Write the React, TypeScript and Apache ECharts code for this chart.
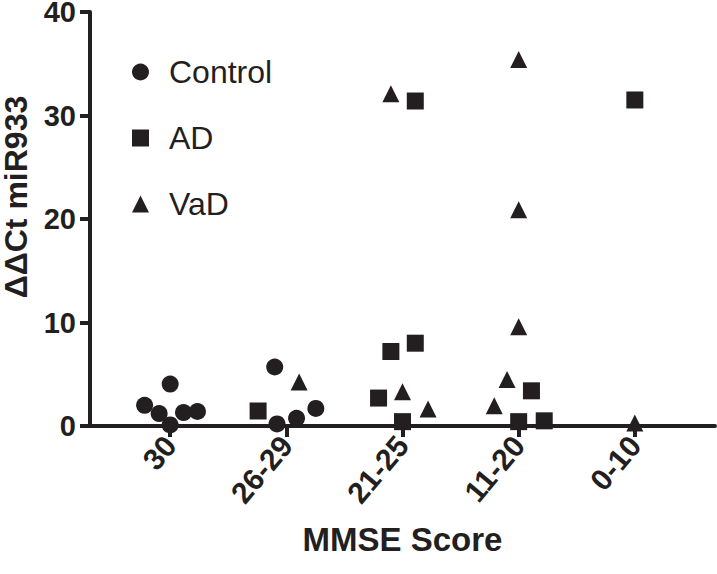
import React, { useEffect, useRef } from "react";
import * as echarts from "echarts";

// MMSE score categories (x axis tick labels, left to right)
const categories = ["30", "26-29", "21-25", "11-20", "0-10"];
const yTicks = [0, 10, 20, 30, 40];

// Each group: category index, horizontal jitter (in category units), value (ΔΔCt)
const controlCategory = [0, 0, 0, 0, 0, 0, 1, 1, 1, 1];
const controlJitter = [-0.22, -0.095, 0, 0, 0.115, 0.235, -0.1, -0.08, 0.088, 0.254];
const controlValues = [2.0, 1.2, 0.1, 4.05, 1.3, 1.4, 5.7, 0.2, 0.75, 1.7];

const adCategory = [1, 2, 2, 2, 2, 2, 3, 3, 3, 4];
const adJitter = [-0.243, -0.206, -0.1, 0.11, 0, 0.11, 0.11, 0, 0.22, 0];
const adValues = [1.45, 2.7, 7.2, 8.0, 0.42, 31.4, 3.4, 0.42, 0.5, 31.5];

const vadCategory = [1, 2, 2, 2, 3, 3, 3, 3, 3, 4];
const vadJitter = [0.11, -0.1, 0, 0.22, 0, 0, 0, -0.1, -0.21, 0];
const vadValues = [4.25, 32.1, 3.3, 1.65, 35.4, 20.9, 9.6, 4.5, 1.95, 0.3];

const seriesNames = ["Control", "AD", "VaD"];
const seriesSymbols = ["circle", "rect", "triangle"];

const INK = "#231f20";
const FONT = "'Liberation Sans', Arial, Helvetica, sans-serif";

function build(cat: number[], jit: number[], vals: number[]) {
  return vals.map((v, i) => [cat[i] + jit[i], v]);
}

export default function App() {
  const ref = useRef<HTMLDivElement>(null);
  useEffect(() => {
    if (!ref.current) return;
    const chart = echarts.init(ref.current, undefined, { renderer: "svg" });
    const groups = [
      build(controlCategory, controlJitter, controlValues),
      build(adCategory, adJitter, adValues),
      build(vadCategory, vadJitter, vadValues),
    ];
    chart.setOption({
      animation: false,
      backgroundColor: "#ffffff",
      textStyle: { fontFamily: FONT, color: INK },
      grid: {
        left: 90,
        right: 2,
        top: 12,
        bottom: 148,
        containLabel: false,
        outerBoundsMode: "none",
      },
      legend: {
        orient: "vertical",
        left: 127,
        top: 49,
        itemWidth: 17,
        itemHeight: 17,
        itemGap: 30,
        data: seriesNames.map((n, i) => ({ name: n, icon: seriesSymbols[i] })),
        textStyle: {
          fontFamily: FONT,
          fontSize: 32,
          color: INK,
          lineHeight: 36,
          padding: [0, 0, 0, 15],
        },
      },
      xAxis: {
        type: "value",
        min: -0.69,
        max: 4.69,
        name: "MMSE Score",
        nameLocation: "middle",
        nameGap: 97,
        nameMoveOverlap: false,
        nameTextStyle: { fontFamily: FONT, fontSize: 33, fontWeight: "bold", color: INK },
        splitLine: { show: false },
        axisLine: { show: true, onZero: false, lineStyle: { color: INK, width: 4 } },
        axisTick: {
          show: true,
          length: 11,
          customValues: categories.map((_, i) => i),
          lineStyle: { color: INK, width: 4 },
        },
        axisLabel: {
          show: true,
          customValues: categories.map((_, i) => i),
          rotate: 50,
          margin: 14,
          fontFamily: FONT,
          fontSize: 30,
          fontWeight: "bold",
          color: INK,
          formatter: (v: number) => categories[Math.round(v)] ?? "",
        },
      },
      yAxis: {
        type: "value",
        min: yTicks[0],
        max: yTicks[yTicks.length - 1],
        interval: 10,
        name: "ΔΔCt miR933",
        nameLocation: "middle",
        nameGap: 59,
        nameMoveOverlap: false,
        nameTextStyle: {
          fontFamily: FONT,
          fontSize: 32,
          fontWeight: "bold",
          color: INK,
          lineHeight: 30,
          padding: [0, 0, 0, 44],
        },
        splitLine: { show: false },
        axisLine: { show: true, onZero: false, lineStyle: { color: INK, width: 4 } },
        axisTick: { show: true, length: 10, lineStyle: { color: INK, width: 4 } },
        axisLabel: {
          margin: 14,
          fontFamily: FONT,
          fontSize: 29,
          fontWeight: "bold",
          color: INK,
          lineHeight: 24,
        },
      },
      series: seriesNames.map((n, i) => ({
        name: n,
        type: "scatter",
        symbol: seriesSymbols[i],
        symbolSize: 17,
        itemStyle: { color: INK, opacity: 1 },
        data: groups[i],
        z: 3,
      })),
    });
    return () => chart.dispose();
  }, []);
  return (
    <div
      ref={ref}
      style={{ position: "fixed", left: 0, top: 0, width: 717, height: 574, background: "#fff" }}
    />
  );
}
